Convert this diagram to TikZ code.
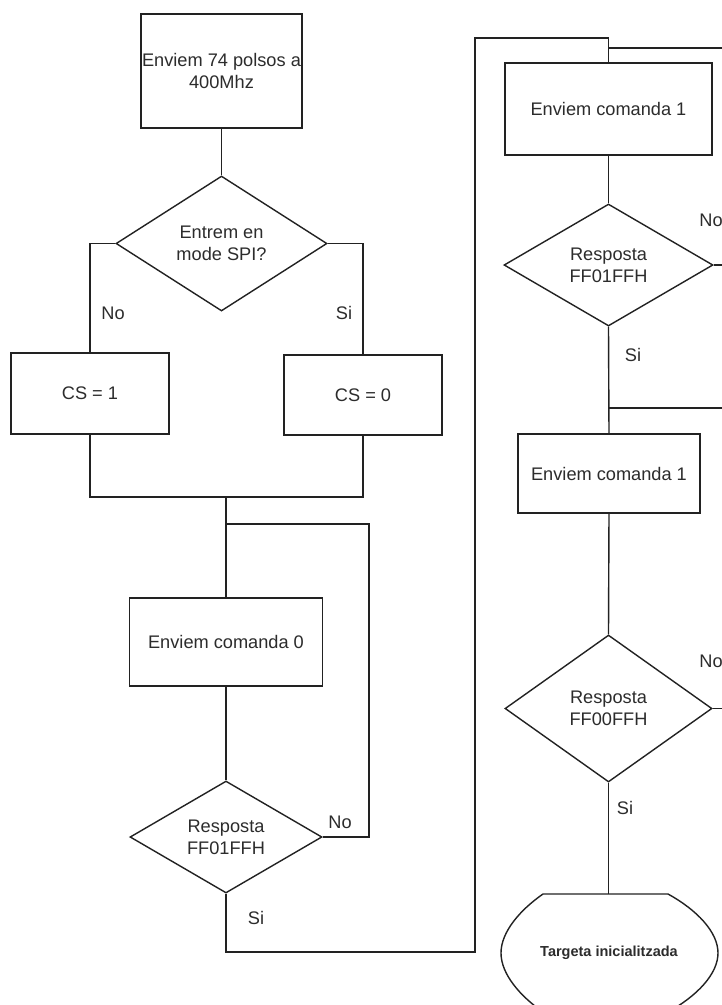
\documentclass[tikz,border=0pt]{standalone}
\usepackage{fontspec}
\setmainfont{Liberation Sans}
\usetikzlibrary{shapes.geometric}
\definecolor{ink}{HTML}{222222}
\definecolor{txt}{HTML}{2C2C2C}
\tikzset{
  lbl/.style={font=\fontsize{18.2}{22}\selectfont, text=txt, align=center},
  procbox/.style={draw=ink, rectangle, inner sep=0pt, lbl},
  decision/.style={draw=ink, diamond, inner sep=0pt, aspect=1.55, lbl},
  tag/.style={font=\fontsize{18.2}{22}\selectfont, text=txt, inner sep=0pt},
  wire/.style={draw=ink},
}
\begin{document}
\begin{tikzpicture}[x=1pt, y=-1pt, line width=1.4pt, color=ink]
\useasboundingbox (0,0) rectangle (722,1005);
\fill[white] (0,0) rectangle (722,1005);
\clip (0,0) rectangle (722,1005);

% left column
\node[procbox, minimum width=161pt, minimum height=114pt] (start) at (221.5,71) {Enviem 74 polsos a\\400Mhz};
\node[decision, minimum width=211pt, minimum height=135pt] (d1) at (221.5,243.5) {Entrem en\\mode SPI?};
\node[procbox, minimum width=158pt, minimum height=81pt] (cs1) at (90,393.5) {CS = 1};
\node[procbox, minimum width=158pt, minimum height=80pt] (cs0) at (363,395) {CS = 0};
\node[procbox, minimum width=193pt, minimum height=88pt] (c0) at (226,642) {Enviem comanda 0};
\node[decision, minimum width=192pt, minimum height=112pt] (d3) at (226,837) {Resposta\\FF01FFH};

% right column
\node[procbox, minimum width=207pt, minimum height=92pt] (c1) at (608.5,109) {Enviem comanda 1};
\node[decision, minimum width=209pt, minimum height=122pt] (d2) at (608.5,265) {Resposta\\FF01FFH};
\node[procbox, minimum width=182pt, minimum height=79pt] (c2) at (609,473.5) {Enviem comanda 1};
\node[decision, minimum width=207pt, minimum height=147pt] (d4) at (608.5,708.5) {Resposta\\FF00FFH};

% terminal shape
\node[font=\fontsize{14.5}{17}\selectfont\bfseries, text=txt, inner sep=0pt] (term) at (609,953) {Targeta inicialitzada};
\coordinate (termtop) at (608.5,894);
\draw[wire] (543,894) -- (668,894)
  .. controls (697,910) and (718,932) .. (718,953)
  .. controls (718,974) and (697,996) .. (668,1012)
  -- (543,1012)
  .. controls (520,996) and (501,974) .. (501,953)
  .. controls (501,932) and (520,910) .. (543,894) -- cycle;

% junction points
\coordinate (m1) at (226,497);
\coordinate (j1) at (226,524);
\coordinate (r1) at (369,837);
\coordinate (b1) at (475,952);
\coordinate (t1) at (475,38);
\coordinate (t2) at (608.5,38);
\coordinate (t3) at (608.5,48);
\coordinate (e1) at (740,48);
\coordinate (t4) at (608.5,408);
\coordinate (e2) at (740,408);
\coordinate (e3) at (740,265);
\coordinate (e4) at (740,708.5);

% connectors
\draw[wire] (start.south) -- (d1.north);
\draw[wire] (d1.west) -| (cs1.north);
\draw[wire] (d1.east) -| (cs0.north);
\draw[wire] (cs1.south) |- (m1);
\draw[wire] (cs0.south) |- (m1);
\draw[wire] (m1) -- (c0.north);
\draw[wire] (c0.south) -- (d3.north);
\draw[wire] (d3.east) -- (r1) |- (j1);
\draw[wire] (d3.south) |- (b1) -- (t1) -- (t2) -- (c1.north);
\draw[wire] (t3) -- (e1);
\draw[wire] (c1.south) -- (d2.north);
\draw[wire] (d2.east) -- (e3);
\draw[wire] (d2.south) -- (c2.north);
\draw[wire] (t4) -- (e2);
\draw[wire] (c2.south) -- (d4.north);
\draw[wire] (d4.east) -- (e4);
\draw[wire] (d4.south) -- (termtop);

% branch labels
\node[tag] (no1) at (113,313) {No};
\node[tag] (si1) at (344,313) {Si};
\node[tag] (no3) at (340,822) {No};
\node[tag] (si3) at (256,918) {Si};
\node[tag] (no2) at (711,220) {No};
\node[tag] (si2) at (633,355) {Si};
\node[tag] (no4) at (711,661) {No};
\node[tag] (si4) at (625,808) {Si};
\end{tikzpicture}
\end{document}
